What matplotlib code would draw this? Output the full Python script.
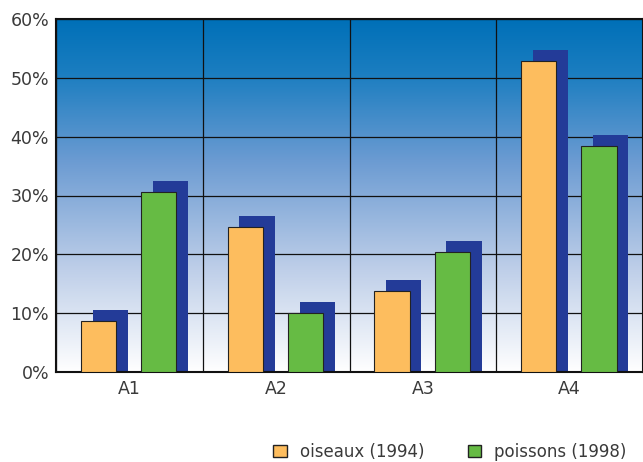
import numpy as np
import matplotlib.pyplot as plt
from matplotlib.colors import LinearSegmentedColormap
from matplotlib.patches import Patch

categories = ["A1", "A2", "A3", "A4"]
oiseaux = [8.7, 24.7, 13.8, 52.9]
poissons = [30.6, 10.0, 20.4, 38.4]
yticks = [0, 10, 20, 30, 40, 50, 60]
ytick_labels = ["0%", "10%", "20%", "30%", "40%", "50%", "60%"]

orange = "#fdbd5e"
green = "#66bb44"
shadow = "#233b98"

fig = plt.figure(figsize=(6.43, 4.62), dpi=100)
ax = fig.add_axes([56 / 643, 90 / 462, 587 / 643, 353 / 462])

# background gradient
cmap = LinearSegmentedColormap.from_list(
    "bg", [(0.0, "#ffffff"), (0.3, "#bccde8"), (0.6, "#6b9bd2"),
           (0.85, "#1a7dc0"), (1.0, "#0070b8")])
grad = np.linspace(0, 1, 256).reshape(-1, 1)
ax.imshow(grad, cmap=cmap, origin="lower", aspect="auto",
          extent=[-0.5, 3.5, 0, 60], zorder=0)

x = np.arange(len(categories))
w = 0.24
dx, dy = 0.08, 1.9
for vals, off, col in [(oiseaux, -0.21, orange), (poissons, 0.20, green)]:
    ax.bar(x + off + dx, vals, width=w, color=shadow, zorder=2)
    ax.bar(x + off, vals, width=w, color=col, edgecolor="#222222",
           linewidth=0.8, zorder=3)
    ax.bar(x + off + dx, [dy] * len(vals), bottom=vals, width=w,
           color=shadow, zorder=2)

ax.set_xlim(-0.5, 3.5)
ax.set_ylim(0, 60)
ax.set_yticks(yticks)
ax.set_yticklabels(ytick_labels, fontsize=12.5, color="#3a3a3a")
ax.set_xticks(x)
ax.set_xticklabels(categories, fontsize=12.5, color="#3a3a3a")
ax.tick_params(length=0, pad=5)
ax.tick_params(axis="x", pad=6)
ax.set_xticks(np.arange(-0.5, 3.6, 1), minor=True)
ax.tick_params(which="minor", length=0)
ax.grid(True, which="major", axis="y", color="#111111", linewidth=0.9, zorder=1)
ax.grid(True, which="minor", axis="x", color="#111111", linewidth=0.9, zorder=1)
ax.set_axisbelow(True)
for s in ax.spines.values():
    s.set_linewidth(1.5)
    s.set_color("#111111")

handles = [Patch(facecolor=orange, edgecolor="#222222", label="oiseaux (1994)"),
           Patch(facecolor=green, edgecolor="#222222", label="poissons (1998)")]
fig.legend(handles=handles, loc="center", bbox_to_anchor=(0.70, 0.022),
           ncol=2, frameon=False, fontsize=12, handlelength=0.8,
           handleheight=0.8, columnspacing=2.6, handletextpad=0.8,
           labelcolor="#3a3a3a")

fig.savefig("out.png", dpi=100)
